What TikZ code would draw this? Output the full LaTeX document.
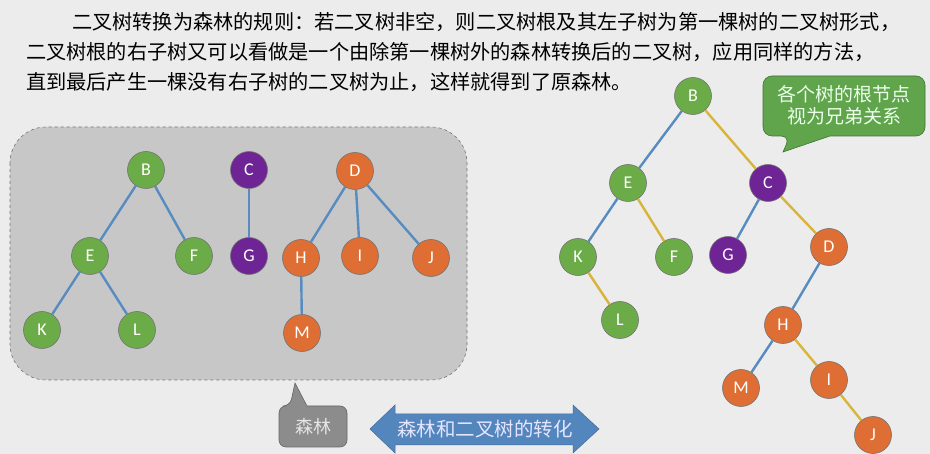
\documentclass[tikz,border=0pt]{standalone}
\usepackage{fontspec}
\setmainfont{Carlito}
\newfontfamily\cjk{Noto Sans CJK SC}
\usetikzlibrary{positioning}
\definecolor{pagebg}{RGB}{236,236,236}
\definecolor{forestbg}{RGB}{199,199,199}
\definecolor{leafgreen}{RGB}{108,172,72}
\definecolor{rootpurple}{RGB}{110,36,148}
\definecolor{nodeorange}{RGB}{222,110,52}
\definecolor{childblue}{RGB}{88,140,192}
\definecolor{siblinggold}{RGB}{216,180,58}
\definecolor{calloutgreen}{RGB}{96,164,76}
\definecolor{arrowblue}{RGB}{84,134,190}

\begin{document}
\begin{tikzpicture}[x=1pt,y=-1pt,
    tnode/.style={circle, draw=black!55, line width=0.6pt, minimum size=37pt, inner sep=0pt,
                  text=white, font=\fontsize{18}{18}\selectfont},
    gnode/.style={tnode, fill=leafgreen},
    pnode/.style={tnode, fill=rootpurple},
    onode/.style={tnode, fill=nodeorange},
    child/.style={draw=childblue, line width=2.4pt},
    sib/.style={draw=siblinggold, line width=2.4pt},
    para/.style={anchor=west, inner sep=0pt, font=\cjk\fontsize{20.2}{20.2}\selectfont}]
  \fill[pagebg] (0,0) rectangle (930,454);
  \useasboundingbox (0,0) rectangle (930,454);

  \node[para] (line1) at (72,22) {二叉树转换为森林的规则：若二叉树非空，则二叉树根及其左子树为第一棵树的二叉树形式，};
  \node[para] (line2) at (26,52) {二叉树根的右子树又可以看做是一个由除第一棵树外的森林转换后的二叉树，应用同样的方法，};
  \node[para] (line3) at (26,82) {直到最后产生一棵没有右子树的二叉树为止，这样就得到了原森林。};

  % forest
  \draw[fill=forestbg, draw=black!55, dashed, line width=0.6pt, rounded corners=36pt]
    (10,127) rectangle (467,380);
  \node[gnode] (fB) at (146,170) {B};
  \node[pnode] (fC) at (249,170) {C};
  \node[onode] (fD) at (355,171) {D};
  \node[gnode] (fE) at (90,256) {E};
  \node[gnode] (fF) at (194,256) {F};
  \node[pnode] (fG) at (249,256) {G};
  \node[onode] (fH) at (301,258) {H};
  \node[onode] (fI) at (360,256) {I};
  \node[onode] (fJ) at (431,258) {J};
  \node[gnode] (fK) at (42,330) {K};
  \node[gnode] (fL) at (137,330) {L};
  \node[onode] (fM) at (302,333) {M};
  \draw[child] (fB) -- (fE);
  \draw[child] (fB) -- (fF);
  \draw[child] (fE) -- (fK);
  \draw[child] (fE) -- (fL);
  \draw[child] (fC) -- (fG);
  \draw[child] (fD) -- (fH);
  \draw[child] (fD) -- (fI);
  \draw[child] (fD) -- (fJ);
  \draw[child] (fH) -- (fM);

  % binary tree
  \node[gnode] (bB) at (693,96) {B};
  \node[gnode] (bE) at (628,183) {E};
  \node[pnode] (bC) at (768,183) {C};
  \node[gnode] (bK) at (578,257) {K};
  \node[gnode] (bF) at (674,257) {F};
  \node[pnode] (bG) at (728,255) {G};
  \node[onode] (bD) at (829,247) {D};
  \node[gnode] (bL) at (620,320) {L};
  \node[onode] (bH) at (783,325) {H};
  \node[onode] (bM) at (741,388) {M};
  \node[onode] (bI) at (829,380) {I};
  \node[onode] (bJ) at (873,435) {J};
  \draw[child] (bB) -- (bE);
  \draw[sib] (bB) -- (bC);
  \draw[child] (bE) -- (bK);
  \draw[sib] (bE) -- (bF);
  \draw[sib] (bK) -- (bL);
  \draw[child] (bC) -- (bG);
  \draw[sib] (bC) -- (bD);
  \draw[child] (bD) -- (bH);
  \draw[child] (bH) -- (bM);
  \draw[sib] (bH) -- (bI);
  \draw[sib] (bI) -- (bJ);

  % callouts
  \draw[fill=calloutgreen, draw=calloutgreen!70!black, line width=0.6pt, rounded corners=9pt]
    (830,136) -- (925,136) -- (925,76) -- (763,76) -- (763,136) -- (790,136)
    [sharp corners] -- (783,152) -- cycle;
  \node[font=\cjk\fontsize{19}{22}\selectfont, text=white!92!green, align=center] (rootnote)
    at (844,105) {各个树的根节点\\视为兄弟关系};

  \draw[fill=black!45, draw=black!60, line width=0.6pt, rounded corners=7pt]
    (307,406) -- (347,406) -- (347,447) -- (279,447) -- (279,406) -- (290,406)
    [sharp corners] -- (295,383) -- cycle;
  \node[font=\cjk\fontsize{18}{18}\selectfont, text=white!90!black] (forestnote) at (313,427) {森林};

  \draw[fill=arrowblue, draw=arrowblue!80!black, line width=0.5pt]
    (370,429) -- (395,405) -- (395,414) -- (573,414) -- (573,405) -- (599,429)
    -- (573,453) -- (573,445) -- (395,445) -- (395,453) -- cycle;
  \node[font=\cjk\fontsize{19.5}{19.5}\selectfont, text=white!90!blue] (convert) at (485,429) {森林和二叉树的转化};
\end{tikzpicture}
\end{document}
